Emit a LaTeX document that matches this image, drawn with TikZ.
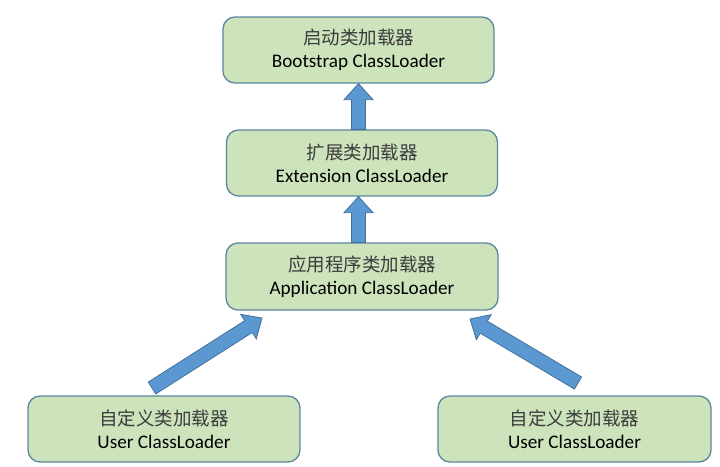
\documentclass[tikz,border=0pt]{standalone}
\usepackage{fontspec}
\setmainfont{Carlito}
\newfontfamily\cjk{Noto Sans CJK SC}
\usetikzlibrary{calc}
\definecolor{boxfill}{RGB}{204,227,188}
\definecolor{boxline}{RGB}{92,135,160}
\definecolor{arrfill}{RGB}{91,152,210}
\definecolor{arrline}{RGB}{65,113,156}
\definecolor{cjkgray}{RGB}{60,60,60}
\newcommand\blockarrow[2]{%
  \coordinate (ba-s) at (#1);
  \coordinate (ba-t) at (#2);
  \coordinate (ba-h) at ($(ba-t)!16pt!(ba-s)$);
  \filldraw[arrowbody] ($(ba-s)!7pt!90:(ba-t)$) -- ($(ba-h)!7pt!90:(ba-t)$)
    -- ($(ba-h)!14.5pt!90:(ba-t)$) -- (ba-t) -- ($(ba-h)!14.5pt!-90:(ba-t)$)
    -- ($(ba-h)!7pt!-90:(ba-t)$) -- ($(ba-s)!7pt!-90:(ba-t)$) -- cycle;
}
\tikzset{
  loader/.style={draw=boxline, line width=1.3pt, fill=boxfill, rounded corners=12pt,
    minimum width=271pt, minimum height=66pt, align=center, inner sep=0pt,
    font=\fontsize{19.2}{23}\selectfont},
  arrowbody/.style={fill=arrfill, draw=arrline, line width=0.8pt, line join=miter}
}
\newcommand\zh[1]{{\color{cjkgray}\cjk\fontsize{18.5}{23}\selectfont #1}}
\begin{document}
\begin{tikzpicture}[x=1pt,y=-1pt]
  \path[use as bounding box, fill=white] (0,0) rectangle (720,466);
  \node[loader] (boot) at (358.5,50) {\zh{启动类加载器}\\Bootstrap ClassLoader};
  \node[loader] (ext) at (362,163) {\zh{扩展类加载器}\\Extension ClassLoader};
  \node[loader, minimum width=272pt, minimum height=67pt] (app) at (362,276.5) {\zh{应用程序类加载器}\\Application ClassLoader};
  \node[loader, minimum width=272pt] (userl) at (164,429) {\zh{自定义类加载器}\\User ClassLoader};
  \node[loader, minimum width=273pt] (userr) at (574.5,429) {\zh{自定义类加载器}\\User ClassLoader};
  \coordinate (ul-tail) at (152,388);
  \coordinate (ul-tip) at (262,318);
  \coordinate (ur-tail) at (578,383);
  \coordinate (ur-tip) at (470,319);
  \blockarrow{ext.north -| boot.south}{boot.south}
  \blockarrow{app.north -| boot.south}{ext.south -| boot.south}
  \blockarrow{ul-tail}{ul-tip}
  \blockarrow{ur-tail}{ur-tip}
\end{tikzpicture}
\end{document}
